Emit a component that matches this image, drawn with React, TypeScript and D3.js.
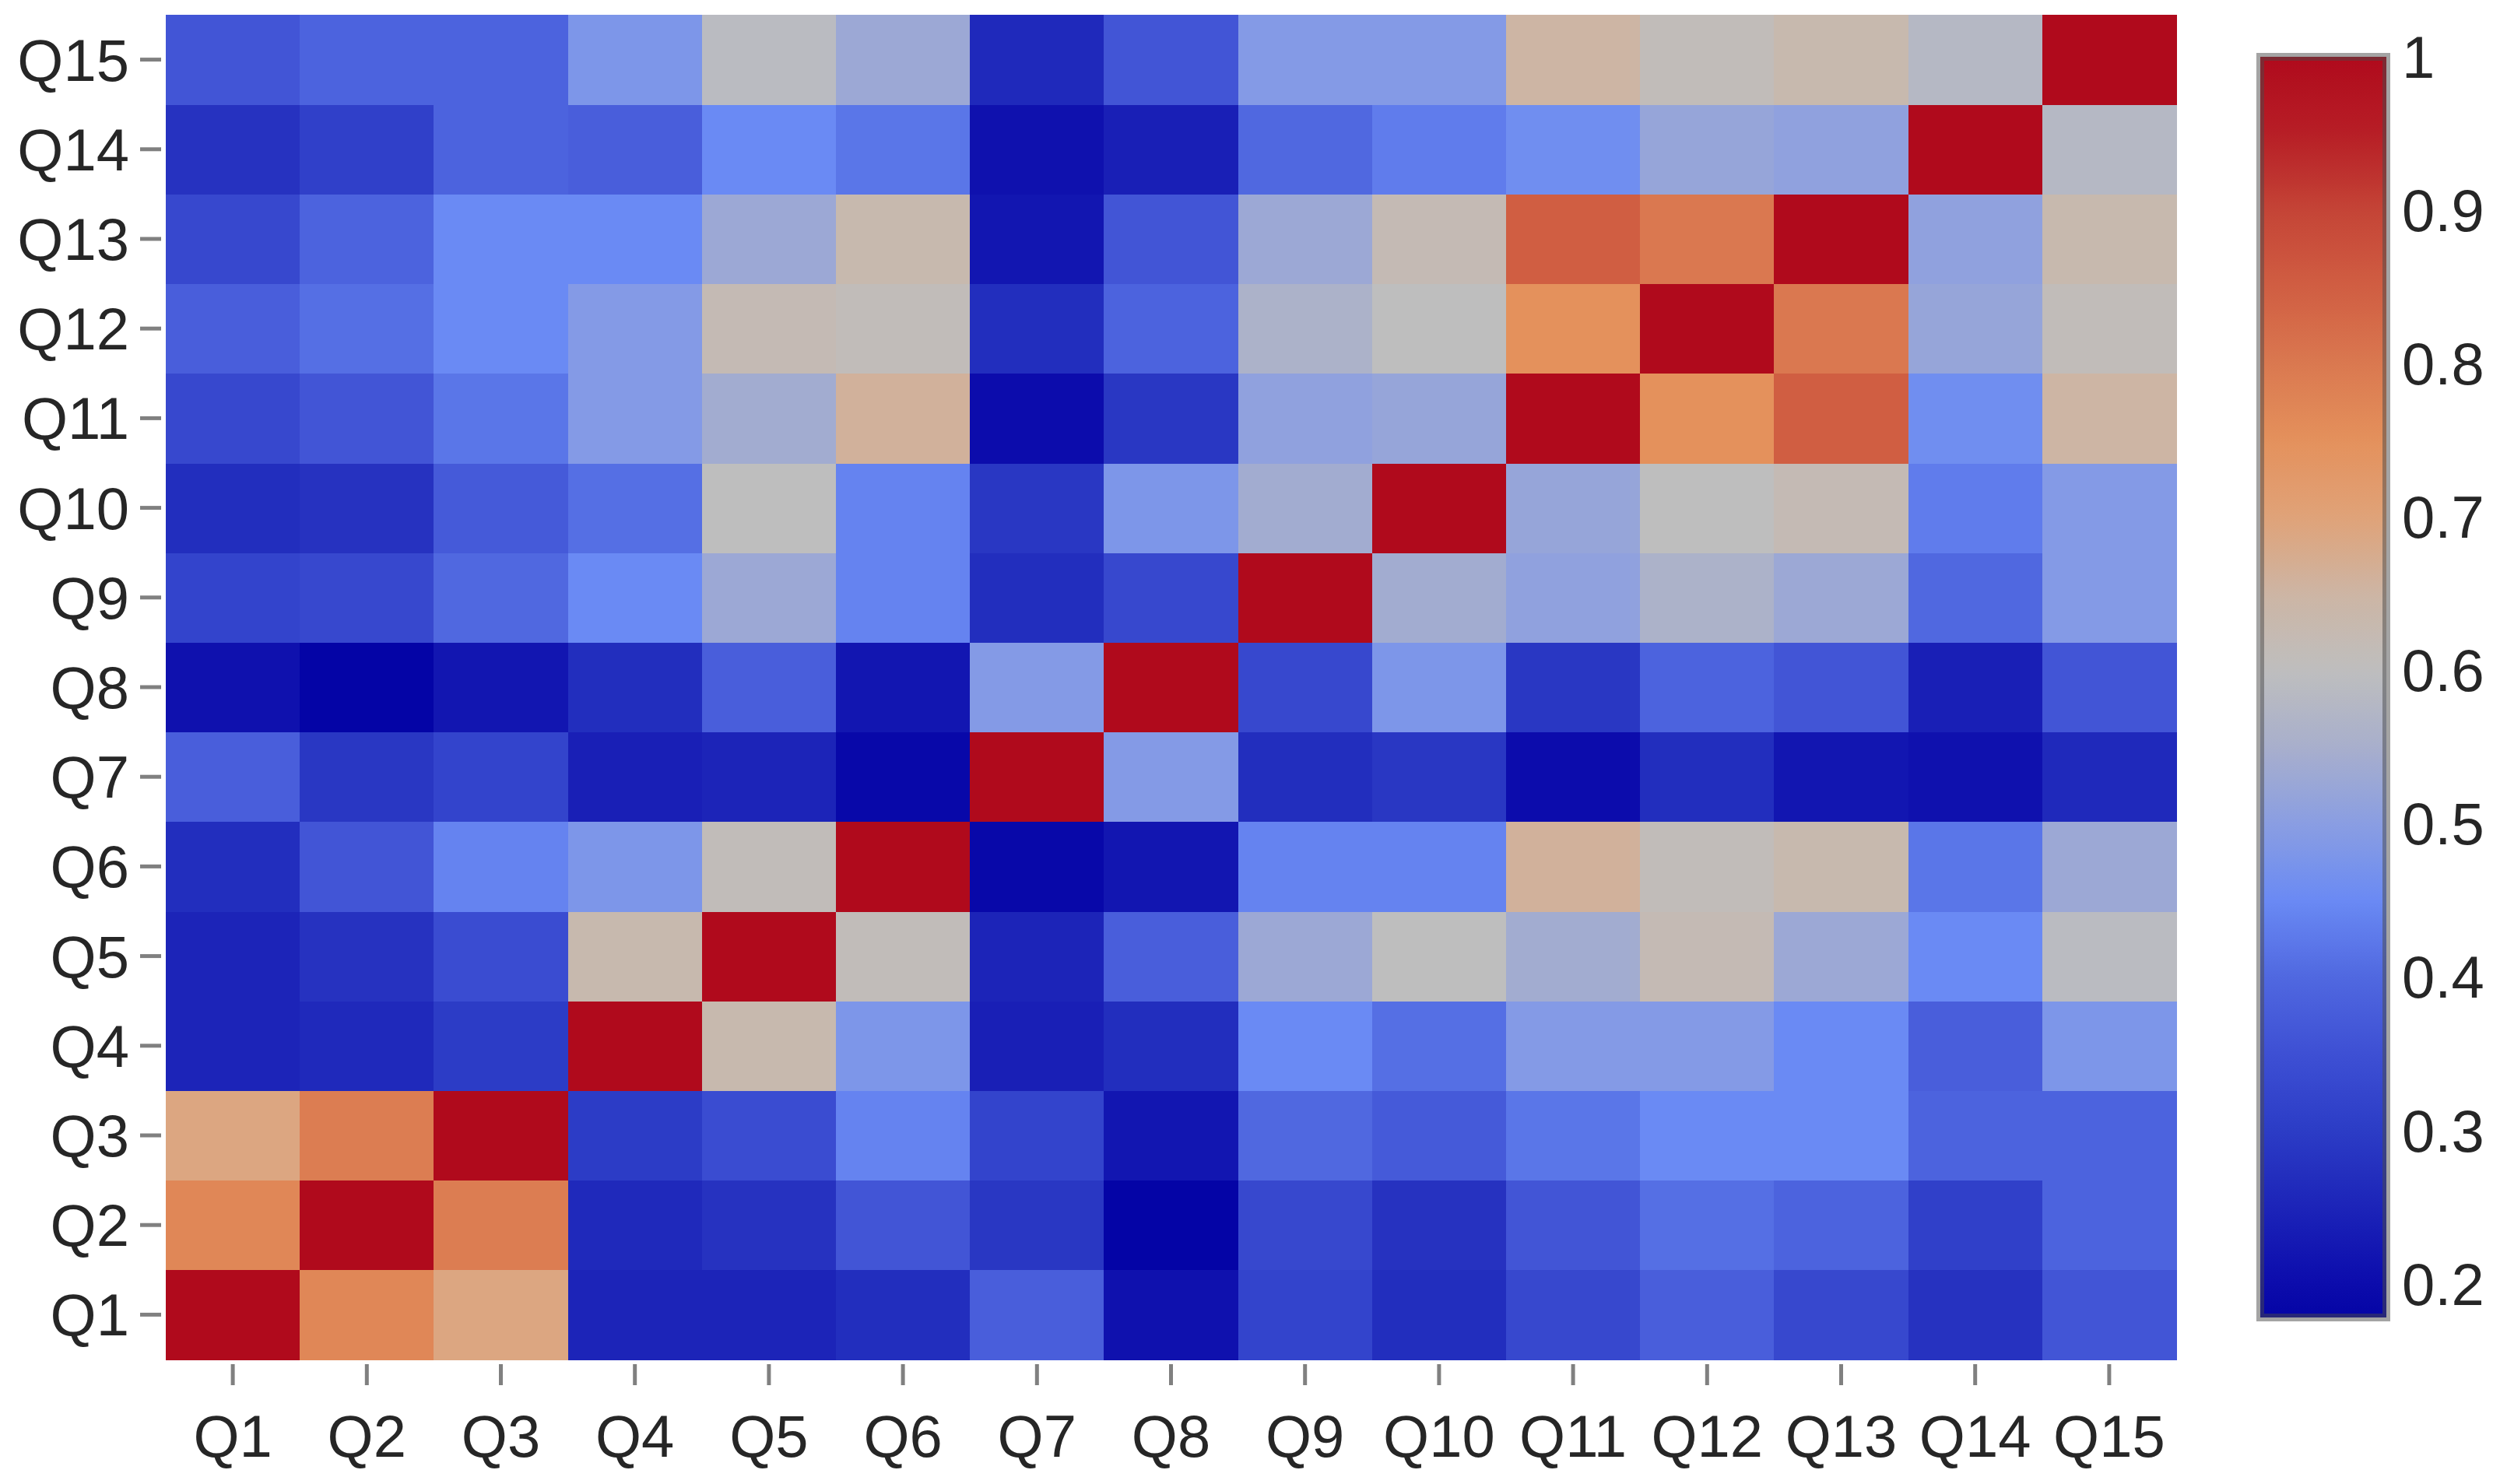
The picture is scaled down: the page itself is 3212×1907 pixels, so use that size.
import React from "react";
import * as d3 from "d3";

const questions = ["Q1","Q2","Q3","Q4","Q5","Q6","Q7","Q8","Q9","Q10","Q11","Q12","Q13","Q14","Q15"];

// correlation rows (row Qi, columns Q1..Q15)
const rowQ1  = [1, 0.77, 0.69, 0.25, 0.25, 0.27, 0.38, 0.21, 0.32, 0.27, 0.33, 0.38, 0.33, 0.28, 0.36];
const rowQ2  = [0.77, 1, 0.79, 0.26, 0.28, 0.36, 0.29, 0.178, 0.33, 0.28, 0.36, 0.41, 0.39, 0.31, 0.39];
const rowQ3  = [0.69, 0.79, 1, 0.30, 0.34, 0.44, 0.32, 0.22, 0.40, 0.37, 0.42, 0.45, 0.45, 0.39, 0.39];
const rowQ4  = [0.25, 0.26, 0.30, 1, 0.63, 0.48, 0.24, 0.27, 0.45, 0.41, 0.49, 0.49, 0.45, 0.38, 0.48];
const rowQ5  = [0.25, 0.28, 0.34, 0.63, 1, 0.61, 0.25, 0.38, 0.53, 0.60, 0.54, 0.62, 0.53, 0.45, 0.59];
const rowQ6  = [0.27, 0.36, 0.44, 0.48, 0.61, 1, 0.19, 0.22, 0.44, 0.44, 0.66, 0.61, 0.63, 0.42, 0.53];
const rowQ7  = [0.38, 0.29, 0.32, 0.24, 0.25, 0.19, 1, 0.49, 0.27, 0.29, 0.20, 0.27, 0.22, 0.21, 0.26];
const rowQ8  = [0.21, 0.178, 0.22, 0.27, 0.38, 0.22, 0.49, 1, 0.33, 0.48, 0.29, 0.39, 0.36, 0.24, 0.36];
const rowQ9  = [0.32, 0.33, 0.40, 0.45, 0.53, 0.44, 0.27, 0.33, 1, 0.54, 0.51, 0.56, 0.53, 0.40, 0.49];
const rowQ10 = [0.27, 0.28, 0.37, 0.41, 0.60, 0.44, 0.29, 0.48, 0.54, 1, 0.52, 0.60, 0.62, 0.43, 0.49];
const rowQ11 = [0.33, 0.36, 0.42, 0.49, 0.54, 0.66, 0.20, 0.29, 0.51, 0.52, 1, 0.75, 0.85, 0.46, 0.65];
const rowQ12 = [0.38, 0.41, 0.45, 0.49, 0.62, 0.61, 0.27, 0.39, 0.56, 0.60, 0.75, 1, 0.80, 0.52, 0.61];
const rowQ13 = [0.33, 0.39, 0.45, 0.45, 0.53, 0.63, 0.22, 0.36, 0.53, 0.62, 0.85, 0.80, 1, 0.51, 0.63];
const rowQ14 = [0.28, 0.31, 0.39, 0.38, 0.45, 0.42, 0.21, 0.24, 0.40, 0.43, 0.46, 0.52, 0.51, 1, 0.58];
const rowQ15 = [0.36, 0.39, 0.39, 0.48, 0.59, 0.53, 0.26, 0.36, 0.49, 0.49, 0.65, 0.61, 0.63, 0.58, 1];

const matrixRows = [rowQ1, rowQ2, rowQ3, rowQ4, rowQ5, rowQ6, rowQ7, rowQ8, rowQ9, rowQ10, rowQ11, rowQ12, rowQ13, rowQ14, rowQ15];

const colorStopValues = [0.178, 0.2, 0.25, 0.3, 0.35, 0.4, 0.45, 0.5, 0.55, 0.6, 0.65, 0.7, 0.75, 0.8, 0.85, 0.9, 0.95, 1.0];
const colorStopColors = ["#0404a6", "#0c0cac", "#1c24b8", "#2c3cc6", "#3e50d4", "#5068e0", "#6a8af4", "#8a9ee2", "#a8afcc", "#bebebe", "#cdb5a4", "#e0a278", "#e4915c", "#da7850", "#d05e42", "#c44436", "#b71e26", "#b00a1c"];

const colorbarTicks = [1, 0.9, 0.8, 0.7, 0.6, 0.5, 0.4, 0.3, 0.2];

const W = 3212, H = 1907;
const plot = { left: 213, right: 2796, top: 19, bottom: 1747 };
const cbar = { x: 2904, y: 73, w: 162, h: 1620 };
const FONT = "'Liberation Sans', Arial, Helvetica, sans-serif";
const FS = 76;
const TEXT = "#262626";
const TICK = "#808080";

export default function App() {
  const x = d3.scaleBand<string>().domain(questions).range([plot.left, plot.right]);
  const y = d3.scaleBand<string>().domain([...questions].reverse()).range([plot.top, plot.bottom]);
  const color = d3.scaleLinear<string>().domain(colorStopValues).range(colorStopColors).interpolate(d3.interpolateRgb).clamp(true);

  const cells: { r: string; c: string; v: number }[] = [];
  matrixRows.forEach((row, i) => row.forEach((v, j) => cells.push({ r: questions[i], c: questions[j], v })));

  const allVals = matrixRows.flat();
  const [vmin, vmax] = d3.extent(allVals) as [number, number];
  const cy = d3.scaleLinear().domain([vmax, vmin]).range([cbar.y, cbar.y + cbar.h]);
  const gradStops = d3.range(0, 101).map((k) => {
    const t = k / 100;
    const v = vmax - t * (vmax - vmin);
    return { offset: `${t * 100}%`, color: color(v) };
  });

  return (
    <svg width={W} height={H} style={{ position: "absolute", left: 0, top: 0, display: "block", background: "#fff" }}>
      <defs>
        <linearGradient id="cbgrad" x1="0" y1="0" x2="0" y2="1">
          {gradStops.map((s, i) => (
            <stop key={i} offset={s.offset} stopColor={s.color} />
          ))}
        </linearGradient>
      </defs>
      <rect x={0} y={0} width={W} height={H} fill="#fff" />
      <g shapeRendering="crispEdges">
        {cells.map((d, i) => (
          <rect key={i} x={x(d.c)} y={y(d.r)} width={x.bandwidth() + 0.5} height={y.bandwidth() + 0.5} fill={color(d.v)} />
        ))}
      </g>
      {/* y axis */}
      {questions.map((q) => {
        const yc = (y(q) as number) + y.bandwidth() / 2;
        return (
          <g key={"y" + q}>
            <line x1={plot.left - 33} x2={plot.left - 6} y1={yc} y2={yc} stroke={TICK} strokeWidth={5} />
            <text x={plot.left - 47} y={yc + 27} textAnchor="end" fontFamily={FONT} fontSize={FS} fill={TEXT}>{q}</text>
          </g>
        );
      })}
      {/* x axis */}
      {questions.map((q) => {
        const xc = (x(q) as number) + x.bandwidth() / 2;
        return (
          <g key={"x" + q}>
            <line x1={xc} x2={xc} y1={plot.bottom + 6} y2={plot.bottom + 33} stroke={TICK} strokeWidth={5} />
            <text x={xc} y={plot.bottom + 125} textAnchor="middle" fontFamily={FONT} fontSize={FS} fill={TEXT}>{q}</text>
          </g>
        );
      })}
      {/* colorbar */}
      <rect x={cbar.x} y={cbar.y} width={cbar.w} height={cbar.h} fill="url(#cbgrad)" stroke="rgb(73,73,73)" strokeOpacity={0.5} strokeWidth={10} />
      {colorbarTicks.map((t) => (
        <text key={"cb" + t} x={cbar.x + cbar.w + 20} y={cy(t) + 27} fontFamily={FONT} fontSize={FS} fill={TEXT}>{String(t)}</text>
      ))}
    </svg>
  );
}
